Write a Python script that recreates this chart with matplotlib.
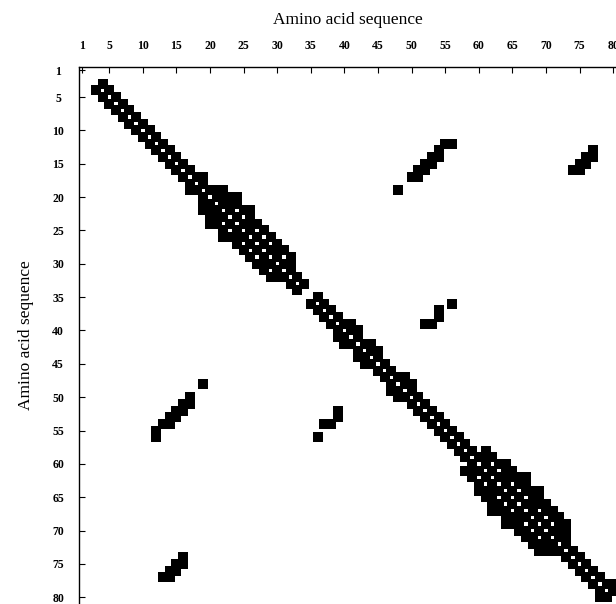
import numpy as np
import matplotlib.pyplot as plt

plt.rcParams['font.family'] = ['Liberation Serif', 'DejaVu Serif']

n_res = 80
tick_residues = [1, 5, 10, 15, 20, 25, 30, 35, 40, 45, 50, 55, 60, 65, 70, 75, 80]
axis_title = 'Amino acid sequence'

# stretches of the chain whose consecutive residues are in contact (i, i+1)
neighbour_runs = [(3, 34), (35, 80)]

# first helix
helix_a = [(17, 19), (19, 21), (20, 22), (21, 23), (24, 26), (28, 30), (30, 32),
           (19, 22), (20, 23), (21, 24), (22, 25), (23, 26), (24, 27), (25, 28),
           (26, 29), (27, 30), (28, 31), (29, 32),
           (20, 24), (22, 26)]

# short turns along the middle stretch
turns = [(39, 41), (40, 42), (42, 44), (43, 45), (47, 49), (48, 50), (78, 80)]

# second helix
helix_b = [(58, 61), (59, 61), (59, 62), (60, 63), (61, 64), (62, 65), (63, 66),
           (64, 67), (65, 68), (66, 69), (67, 70), (68, 71), (69, 72), (70, 73),
           (60, 64), (61, 65), (62, 66), (63, 67), (64, 68), (65, 69), (66, 70),
           (67, 71), (68, 72), (69, 73),
           (62, 67), (64, 69),
           (62, 64), (66, 68), (70, 72), (71, 73)]

# long range strand pairings
strands = [(12, 55), (12, 56), (13, 54), (14, 53), (14, 54), (15, 52), (15, 53),
           (16, 51), (16, 52), (17, 50), (17, 51), (19, 48),
           (13, 77), (14, 76), (14, 77), (15, 75), (15, 76), (16, 74), (16, 75),
           (36, 56), (37, 54), (38, 54), (39, 52), (39, 53)]

contact = np.zeros((n_res, n_res), dtype=bool)
for start, stop in neighbour_runs:
    for i in range(start, stop):
        contact[i - 1, i] = True
for i, j in helix_a + turns + helix_b + strands:
    contact[i - 1, j - 1] = True
contact = contact | contact.T

rows, cols = np.nonzero(contact)

W, H = 616, 604
fig = plt.figure(figsize=(W / 100, H / 100), dpi=100)
left_px, top_px = 79, 67
ax = fig.add_axes([left_px / W, 0, (W - left_px) / W, (H - top_px) / H])
ax.set_xlim(0.5, 80.41)
ax.set_ylim(81.0, 0.5)

# square markers a bit larger than one residue cell
cell_pt = (W - left_px) / (80.41 - 0.5) * 72 / 100
ax.scatter(cols + 1, rows + 1, marker='s', s=(cell_pt * 1.35) ** 2,
           c='black', linewidths=0)

ax.spines['right'].set_visible(False)
ax.spines['bottom'].set_visible(False)
for sp in ('top', 'left'):
    ax.spines[sp].set_linewidth(1.0)

ax.xaxis.tick_top()
ax.xaxis.set_label_position('top')
ax.set_xticks(tick_residues)
ax.set_yticks(tick_residues)
ax.set_xticklabels(tick_residues)
ax.set_yticklabels(tick_residues)
ax.tick_params(axis='x', direction='in', length=4, width=0.8, pad=11,
               labelsize=8.5)
ax.tick_params(axis='y', direction='in', length=4, width=0.8, pad=15,
               labelsize=8.5)
for lab in ax.get_xticklabels() + ax.get_yticklabels():
    lab.set_fontweight('bold')
for lab in ax.get_yticklabels():
    lab.set_horizontalalignment('center')

ax.set_xlabel(axis_title, fontsize=12.5, labelpad=11)
ax.set_ylabel(axis_title, fontsize=12.5, labelpad=13)

fig.savefig('out.png', dpi=100)
